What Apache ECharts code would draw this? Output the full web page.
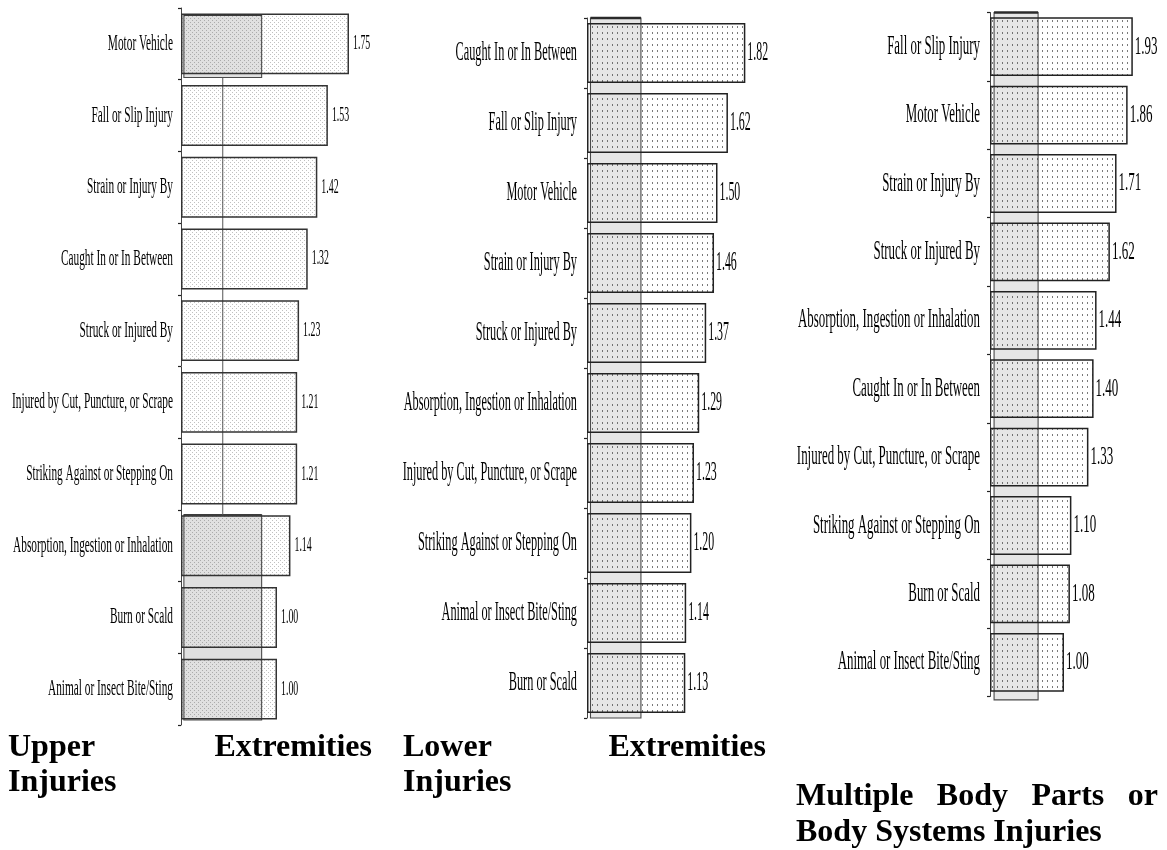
<!DOCTYPE html>
<html>
<head>
<meta charset="utf-8">
<title>Injury rate ratios by event type</title>
<script src="https://cdn.jsdelivr.net/npm/echarts@6/dist/echarts.min.js"></script>
<style>
  html, body { margin: 0; padding: 0; background: #ffffff; }
  #chart { width: 1167px; height: 850px; }
</style>
</head>
<body>
<div id="chart"></div>
<script>
// ---- Data -------------------------------------------------------------
const upperCategories = [
  'Motor Vehicle', 'Fall or Slip Injury', 'Strain or Injury By', 'Caught In or In Between',
  'Struck or Injured By', 'Injured by Cut, Puncture, or Scrape', 'Striking Against or Stepping On',
  'Absorption, Ingestion or Inhalation', 'Burn or Scald', 'Animal or Insect Bite/Sting'
];
const upperValues = [1.75, 1.53, 1.42, 1.32, 1.23, 1.21, 1.21, 1.14, 1.00, 1.00];

const lowerCategories = [
  'Caught In or In Between', 'Fall or Slip Injury', 'Motor Vehicle', 'Strain or Injury By',
  'Struck or Injured By', 'Absorption, Ingestion or Inhalation', 'Injured by Cut, Puncture, or Scrape',
  'Striking Against or Stepping On', 'Animal or Insect Bite/Sting', 'Burn or Scald'
];
const lowerValues = [1.82, 1.62, 1.50, 1.46, 1.37, 1.29, 1.23, 1.20, 1.14, 1.13];

const multiCategories = [
  'Fall or Slip Injury', 'Motor Vehicle', 'Strain or Injury By', 'Struck or Injured By',
  'Absorption, Ingestion or Inhalation', 'Caught In or In Between', 'Injured by Cut, Puncture, or Scrape',
  'Striking Against or Stepping On', 'Burn or Scald', 'Animal or Insect Bite/Sting'
];
const multiValues = [1.93, 1.86, 1.71, 1.62, 1.44, 1.40, 1.33, 1.10, 1.08, 1.00];

// shaded reference band on each value axis (from, to)
const upperShade = [0.03, 0.84];
const lowerShade = [0.04, 0.62];
const multiShade = [0.055, 0.65];
const upperGuide = 0.435;

const panelTitles = [
  { lines: [['Upper', 'Extremities'], ['Injuries']] },
  { lines: [['Lower', 'Extremities'], ['Injuries']] },
  { lines: [['Multiple', 'Body', 'Parts', 'or'], ['Body Systems Injuries']] }
];

// ---- Fill patterns ----------------------------------------------------
function dotTile(w, h, dots, color, dw, dh) {
  const c = document.createElement('canvas');
  c.width = w; c.height = h;
  const ctx = c.getContext('2d');
  ctx.fillStyle = color;
  dots.forEach(d => ctx.fillRect(d[0], d[1], dw, dh));
  return c;
}
const fineDots = dotTile(4, 4, [[0, 0], [2, 2]], 'rgba(60,60,60,0.32)', 1, 1);
const openDots = dotTile(5, 6, [[2, 2]], 'rgba(40,40,40,0.62)', 1, 2);

const SERIF = '"Liberation Serif", "Times New Roman", serif';

// ---- Panel look ---------------------------------------------------------
const panels = [
  {
    cats: upperCategories, vals: upperValues,
    grid: { left: 181, top: 8, width: 192, height: 717 },
    barGap: '15%', pattern: fineDots, border: '#333',
    shade: {
      range: upperShade, fill: '#e0e0e0', topWidth: 1.2,
      items: [
        { kind: 'rect', rows: [-0.40, 0.47] },
        { kind: 'rect', rows: [6.57, 9.43] },
        { kind: 'line', x: upperGuide, rows: [0.47, 6.57] }
      ]
    },
    cat: { size: 23, sx: 0.493, gap: 8 },
    val: { size: 21, sx: 0.47, gap: 4 },
    title: { x0: 8, x1: 372, y: [748, 783] }
  },
  {
    cats: lowerCategories, vals: lowerValues,
    grid: { left: 587, top: 18, width: 174, height: 700 },
    barGap: '14%', pattern: openDots, border: '#222',
    shade: {
      range: lowerShade, fill: '#e6e6e6', topWidth: 2.4,
      items: [{ kind: 'rect', rows: [-0.5, 9.5] }]
    },
    cat: { size: 27, sx: 0.455, gap: 10 },
    val: { size: 27, sx: 0.44, gap: 2 },
    title: { x0: 403, x1: 766, y: [748, 783] }
  },
  {
    cats: multiCategories, vals: multiValues,
    grid: { left: 990, top: 12.5, width: 148, height: 684 },
    barGap: '14%', pattern: openDots, border: '#222',
    shade: {
      range: multiShade, fill: '#e6e6e6', topWidth: 2.4,
      items: [{ kind: 'rect', rows: [-0.5, 9.55] }]
    },
    cat: { size: 27, sx: 0.478, gap: 10 },
    val: { size: 26, sx: 0.5, gap: 2 },
    title: { x0: 796, x1: 1158, y: [797, 833] }
  }
];

// ---- Titles (justified lines of bold text) -------------------------------
const TITLE_FONT = 'bold 32px ' + SERIF;
const measureCtx = document.createElement('canvas').getContext('2d');
measureCtx.font = TITLE_FONT;

function titleGraphics(p, t) {
  const out = [];
  t.lines.forEach((words, li) => {
    const y = p.title.y[li];
    const last = li === t.lines.length - 1;
    if (words.length === 1 || last) {
      out.push({
        type: 'text', x: p.title.x0, y: y,
        style: { text: words.join(' '), font: TITLE_FONT, fill: '#000', align: 'left', verticalAlign: 'middle' }
      });
      return;
    }
    const widths = words.map(w => measureCtx.measureText(w).width);
    const total = widths.reduce((a, b) => a + b, 0);
    const space = (p.title.x1 - p.title.x0 - total) / (words.length - 1);
    let x = p.title.x0;
    words.forEach((w, i) => {
      out.push({
        type: 'text', x: x, y: y,
        style: { text: w, font: TITLE_FONT, fill: '#000', align: 'left', verticalAlign: 'middle' }
      });
      x += widths[i] + space;
    });
  });
  return out;
}

// ---- Build option -------------------------------------------------------
const grid = [], xAxis = [], yAxis = [], series = [], graphic = [];

panels.forEach((p, k) => {
  grid.push(Object.assign({ containLabel: false, outerBoundsMode: 'none' }, p.grid));
  xAxis.push({
    type: 'value', gridIndex: k, min: 0, max: 2, show: false,
    splitLine: { show: false }
  });
  yAxis.push({
    type: 'category', gridIndex: k, data: p.cats, inverse: true,
    axisLine: { show: true, lineStyle: { color: '#444', width: 1 } },
    axisTick: { show: true, length: 3, lineStyle: { color: '#222', width: 1.2 } },
    axisLabel: { show: false },
    splitLine: { show: false }
  });

  // shaded reference band behind the bars
  const sh = p.shade;
  series.push({
    type: 'custom', xAxisIndex: k, yAxisIndex: k, z: 1, silent: true, clip: false,
    data: sh.items.map(() => [0, 0]),
    renderItem: function (params, api) {
      const item = sh.items[params.dataIndex];
      const c0 = api.coord([0, 0]);
      const h = api.coord([0, 1])[1] - c0[1];
      const ya = c0[1] + item.rows[0] * h;
      const yb = c0[1] + item.rows[1] * h;
      if (item.kind === 'line') {
        const x = api.coord([item.x, 0])[0];
        return {
          type: 'line', shape: { x1: x, y1: ya, x2: x, y2: yb },
          style: { stroke: '#555', lineWidth: 1 }
        };
      }
      const xa = api.coord([sh.range[0], 0])[0];
      const xb = api.coord([sh.range[1], 0])[0];
      return {
        type: 'group',
        children: [
          { type: 'rect', shape: { x: xa, y: ya, width: xb - xa, height: yb - ya },
            style: { fill: sh.fill, stroke: '#4a4a4a', lineWidth: 1.1 } },
          { type: 'line', shape: { x1: xa, y1: ya, x2: xb, y2: ya },
            style: { stroke: '#2a2a2a', lineWidth: sh.topWidth } }
        ]
      };
    }
  });

  // bars
  series.push({
    type: 'bar', xAxisIndex: k, yAxisIndex: k, z: 2, silent: true,
    data: p.vals,
    barCategoryGap: p.barGap,
    itemStyle: {
      color: { image: p.pattern, repeat: 'repeat' },
      borderColor: p.border, borderWidth: 1.5
    }
  });

  // category names and value labels (condensed serif)
  series.push({
    type: 'custom', xAxisIndex: k, yAxisIndex: k, z: 3, silent: true, clip: false,
    data: p.vals.map((v, i) => [v, i]),
    encode: { x: 0, y: 1 },
    renderItem: function (params, api) {
      const i = params.dataIndex;
      const v = p.vals[i];
      const end = api.coord([v, i]);
      const base = api.coord([0, i]);
      return {
        type: 'group',
        children: [
          {
            type: 'text', x: base[0] - p.cat.gap, y: base[1], scaleX: p.cat.sx,
            style: {
              text: p.cats[i], fill: '#000', fontSize: p.cat.size, fontFamily: SERIF,
              align: 'right', verticalAlign: 'middle'
            }
          },
          {
            type: 'text', x: end[0] + p.val.gap, y: end[1], scaleX: p.val.sx,
            style: {
              text: v.toFixed(2), fill: '#000', fontSize: p.val.size, fontFamily: SERIF,
              align: 'left', verticalAlign: 'middle'
            }
          }
        ]
      };
    }
  });

  titleGraphics(p, panelTitles[k]).forEach(g => graphic.push(g));
});

const chart = echarts.init(document.getElementById('chart'), null, { renderer: 'canvas' });
chart.setOption({
  backgroundColor: '#ffffff',
  animation: false,
  tooltip: { show: false },
  grid: grid,
  xAxis: xAxis,
  yAxis: yAxis,
  series: series,
  graphic: graphic
});
</script>
</body>
</html>
